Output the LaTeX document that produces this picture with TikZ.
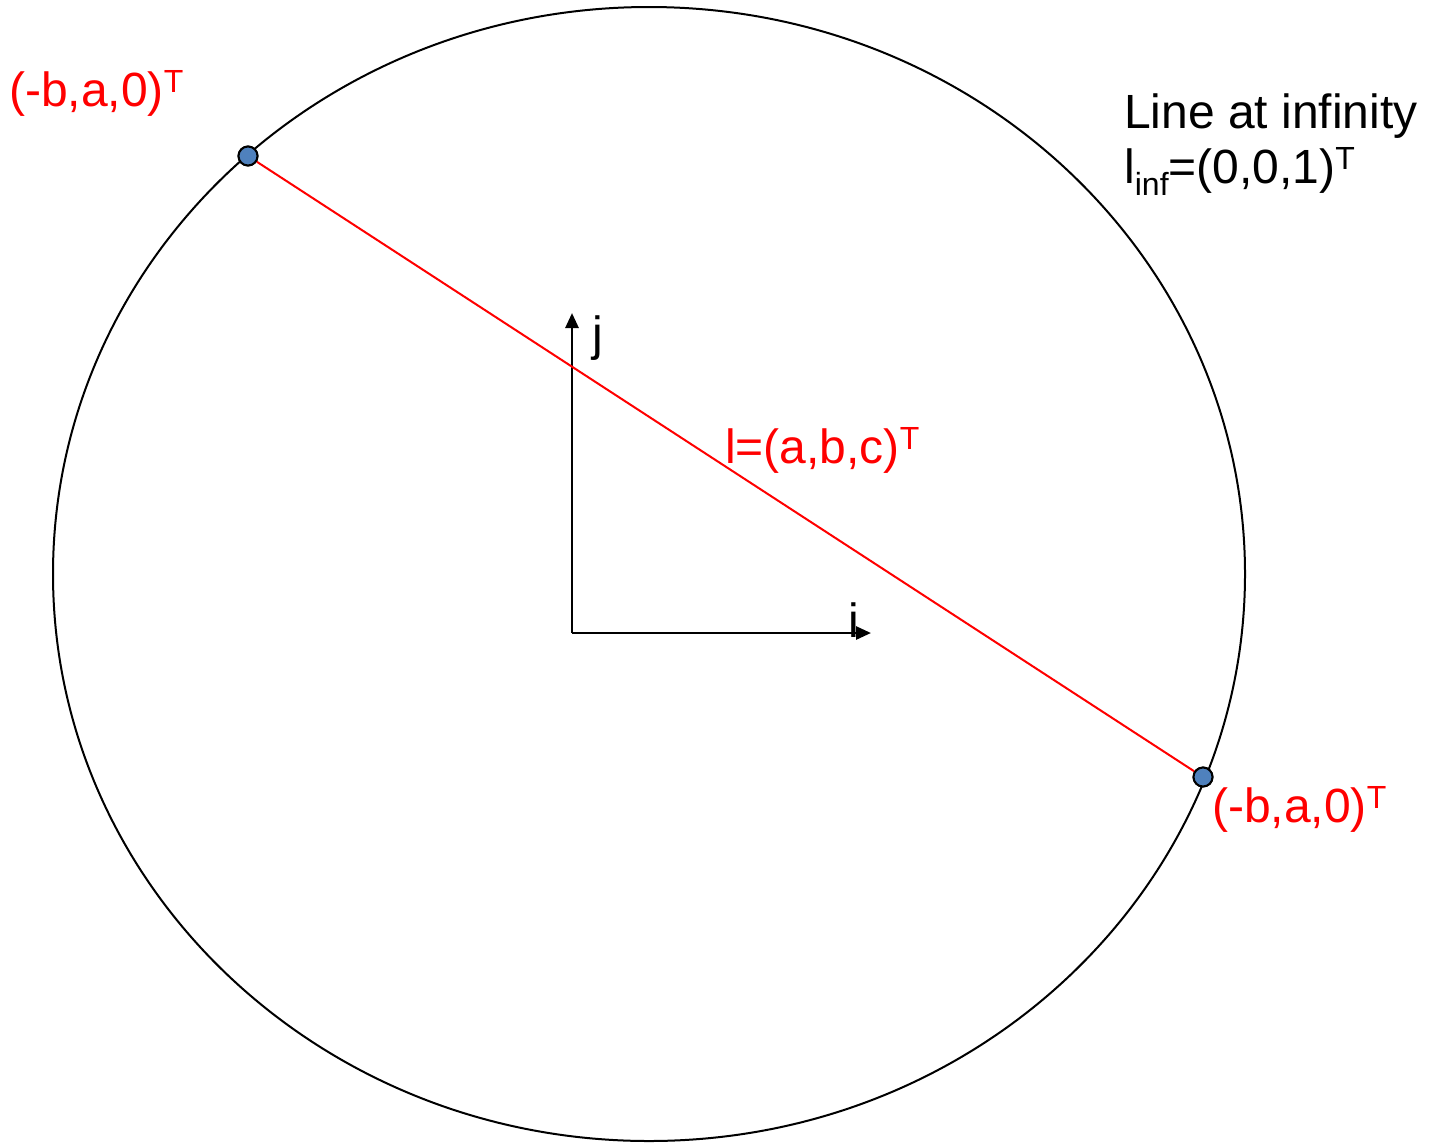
\documentclass[tikz,border=0pt]{standalone}
\usepackage{fontspec}
\setmainfont{Liberation Sans}
\usetikzlibrary{arrows.meta}
\definecolor{dotblue}{HTML}{4F81BD}
\newcommand{\supT}{\raisebox{14pt}{\fontsize{32}{32}\selectfont T}}
\newcommand{\subinf}{\raisebox{-12pt}{\fontsize{32}{32}\selectfont inf}}
\begin{document}
\begin{tikzpicture}[x=1pt,y=-1pt,
  lbl/.style={anchor=base west,inner sep=0pt,font=\fontsize{48}{56}\selectfont},
  redlbl/.style={lbl,text=red},
  ptdot/.style={circle,draw=black,line width=2pt,fill=dotblue,minimum size=19pt,inner sep=0pt},
  axis/.style={line width=2.7pt,-{Triangle[length=15pt,width=13pt]}}]
\useasboundingbox (0,0) rectangle (1431,1144);
\fill[white] (0,0) rectangle (1431,1144);
\draw[line width=2pt] (649,574) ellipse [x radius=596, y radius=567];
\coordinate (o) at (572,633);
\coordinate (jend) at (572,313);
\coordinate (iend) at (871,633);
\draw[axis] (o) -- (jend);
\draw[axis] (o) -- (iend);
\node[ptdot] (p1) at (248,156) {};
\node[ptdot] (p2) at (1203,777) {};
\draw[red,line width=2pt] (p1) -- (p2);
\node[ptdot] at (248,156) {};
\node[ptdot] at (1203,777) {};
\node[redlbl] (t1) at (9,106) {(-b,a,0)\supT};
\node[redlbl] (t2) at (1212,822) {(-b,a,0)\supT};
\node[redlbl] (tl) at (725,463) {l=(a,b,c)\supT};
\node[lbl] (j) at (592,350) {j};
\node[lbl] (i) at (848,637) {i};
\node[lbl] (linf1) at (1124,128) {Line at infinity};
\node[lbl] (linf2) at (1124,183) {l\subinf=(0,0,1)\supT};
\end{tikzpicture}
\end{document}
